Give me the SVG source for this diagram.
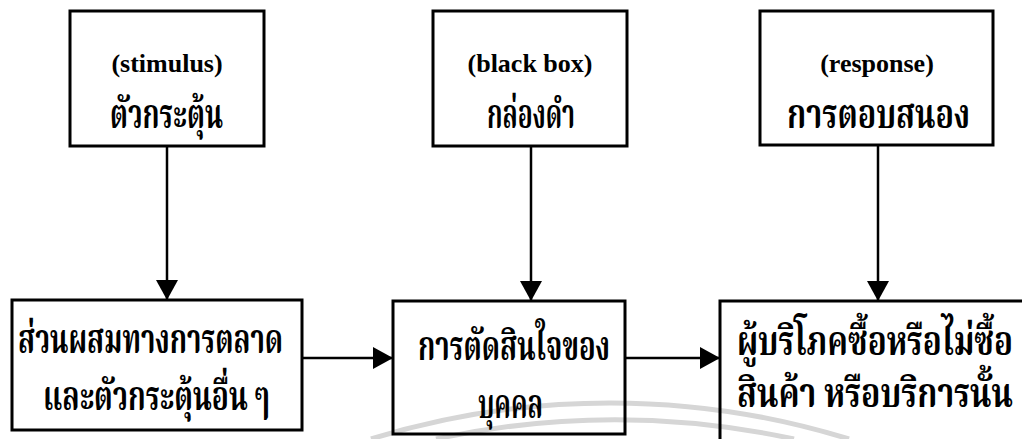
<svg xmlns="http://www.w3.org/2000/svg" width="1022" height="439" viewBox="0 0 1022 439">
<style>
.box{fill:none;stroke:#000;stroke-width:3}
.conn{stroke:#000;stroke-width:2.5;fill:none}
.en{font-family:"Liberation Serif","Times New Roman",serif;font-size:26px;font-weight:bold;fill:#000;text-anchor:middle}
.th{font-family:"Liberation Serif","Noto Serif Thai","Noto Sans Thai",Loma,Garuda,serif;font-size:40px;font-weight:bold;fill:#000}
.wm{fill:none;stroke:#d6d6d6;stroke-width:5}
</style>
<defs>
<marker id="ah" viewBox="0 0 20 22" refX="20" refY="11" markerWidth="20" markerHeight="22" markerUnits="userSpaceOnUse" orient="auto">
<path d="M0,0 L20,11 L0,22 z" fill="#000"/>
</marker>
</defs>
<rect width="1022" height="439" fill="#fff"/>
<g id="watermark">
<path class="wm" d="M371,439 A810,810 0 0 1 849,439"/>
<path class="wm" d="M436,439 A850,850 0 0 1 794,439"/>
</g>
<g id="connectors">
<line class="conn" x1="167" y1="146" x2="167" y2="300" marker-end="url(#ah)"/>
<line class="conn" x1="531" y1="146" x2="531" y2="301" marker-end="url(#ah)"/>
<line class="conn" x1="878" y1="145" x2="878" y2="301" marker-end="url(#ah)"/>
<line class="conn" x1="302" y1="358" x2="393" y2="358" marker-end="url(#ah)"/>
<line class="conn" x1="625" y1="358" x2="720" y2="358" marker-end="url(#ah)"/>
</g>
<g id="stimulus">
<rect class="box" x="70" y="11" width="194" height="135"/>
<text class="en" x="167" y="72">(stimulus)</text>
<text class="th" x="110" y="128" textLength="113" lengthAdjust="spacingAndGlyphs">ตัวกระตุ้น</text>
</g>
<g id="blackbox">
<rect class="box" x="433" y="11" width="194" height="135"/>
<text class="en" x="530" y="72">(black box)</text>
<text class="th" x="487" y="128" textLength="88" lengthAdjust="spacingAndGlyphs">กล่องดำ</text>
</g>
<g id="response">
<rect class="box" x="760" y="11" width="233" height="134"/>
<text class="en" x="877" y="72">(response)</text>
<text class="th" x="787" y="128" textLength="183" lengthAdjust="spacingAndGlyphs">การตอบสนอง</text>
</g>
<g id="marketingmix">
<rect class="box" x="12" y="300" width="290" height="130"/>
<text class="th" x="18" y="353" textLength="265" lengthAdjust="spacingAndGlyphs">ส่วนผสมทางการตลาด</text>
<text class="th" x="43" y="410" textLength="227" lengthAdjust="spacingAndGlyphs">และตัวกระตุ้นอื่น ๆ</text>
</g>
<g id="decision">
<rect class="box" x="393" y="301" width="232" height="133"/>
<text class="th" x="418" y="360" textLength="192" lengthAdjust="spacingAndGlyphs">การตัดสินใจของ</text>
<text class="th" x="478" y="418" textLength="65" lengthAdjust="spacingAndGlyphs">บุคคล</text>
</g>
<g id="consumer">
<rect class="box" x="720" y="301" width="330" height="160"/>
<text class="th" x="737" y="355" textLength="276" lengthAdjust="spacingAndGlyphs">ผู้บริโภคซื้อหรือไม่ซื้อ</text>
<text class="th" x="737" y="407" textLength="276" lengthAdjust="spacingAndGlyphs">สินค้า หรือบริการนั้น</text>
</g>
</svg>
